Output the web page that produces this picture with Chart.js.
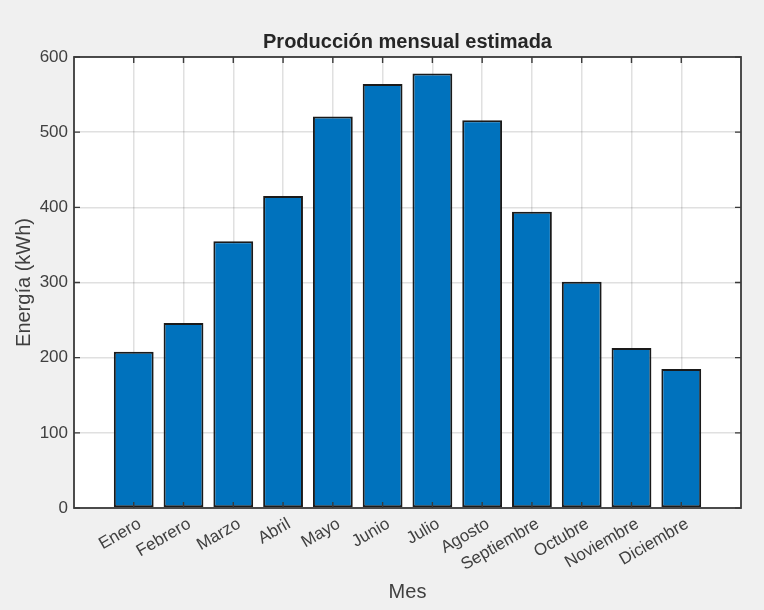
<!DOCTYPE html>
<html>
<head>
<meta charset="utf-8">
<script src="https://cdn.jsdelivr.net/npm/chart.js@4"></script>
<style>
  html, body { margin:0; padding:0; background:#f0f0f0; }
  #wrap { width:764px; height:610px; }
</style>
</head>
<body>
<div id="wrap"><canvas id="chart" width="764" height="610"></canvas></div>
<script>
/* ---------- DATA ---------- */
const months = ["Enero","Febrero","Marzo","Abril","Mayo","Junio","Julio","Agosto","Septiembre","Octubre","Noviembre","Diciembre"];
const energy = [208, 246, 355, 415, 521, 564, 578, 516, 394, 301, 213, 185];
const yTicks = [0, 100, 200, 300, 400, 500, 600];

const AXIS = '#3a3a3a';
const TEXT = '#404040';
const FONT = "'Liberation Sans', Arial, sans-serif";

/* ---------- plugin: background, box, inward ticks ---------- */
const matlabBox = {
  id: 'matlabBox',
  beforeDraw(chart){
    const {ctx, chartArea: a} = chart;
    ctx.save();
    ctx.fillStyle = '#f0f0f0';
    ctx.fillRect(0, 0, chart.width, chart.height);
    ctx.fillStyle = '#ffffff';
    ctx.fillRect(a.left, a.top, a.right - a.left, a.bottom - a.top);
    ctx.restore();
  },
  afterDatasetsDraw(chart){
    const {ctx, chartArea: a, scales} = chart;
    const L = 6;
    ctx.save();
    ctx.strokeStyle = AXIS;
    ctx.lineWidth = 1.4;
    ctx.beginPath();
    yTicks.forEach(v=>{
      const y = scales.y.getPixelForValue(v);
      ctx.moveTo(a.left, y); ctx.lineTo(a.left + L, y);
      ctx.moveTo(a.right, y); ctx.lineTo(a.right - L, y);
    });
    months.forEach((m,i)=>{
      const x = scales.x.getPixelForValue(i + 1);
      ctx.moveTo(x, a.bottom); ctx.lineTo(x, a.bottom - L);
      ctx.moveTo(x, a.top); ctx.lineTo(x, a.top + L);
    });
    ctx.stroke();
    ctx.lineWidth = 1.8;
    ctx.strokeRect(a.left, a.top, a.right - a.left, a.bottom - a.top);
    ctx.restore();
  }
};

const ctx = document.getElementById("chart").getContext("2d");
new Chart(ctx, {
  type: 'bar',
  data: {
    datasets: [{
      data: months.map((m,i)=>({x: i + 1, y: energy[i]})),
      backgroundColor: '#0072BD',
      borderColor: '#1a1a1a',
      borderWidth: 2,
      borderSkipped: false,
      categoryPercentage: 1,
      barPercentage: 0.8
    }]
  },
  options: {
    responsive: false,
    animation: false,
    layout: { padding: { left: 0, right: 23, top: 0, bottom: 0 } },
    plugins: {
      legend: { display: false },
      tooltip: { enabled: false },
      title: {
        display: true,
        fullSize: false,
        text: 'Producción mensual estimada',
        color: '#262626',
        font: { family: FONT, size: 20, weight: 'bold' },
        padding: { top: 30, bottom: 3 }
      }
    },
    scales: {
      x: {
        type: 'linear',
        offset: false,
        min: -0.2,
        max: 13.2,
        afterBuildTicks(scale){ scale.ticks = months.map((m,i)=>({value: i + 1})); },
        afterFit(scale){ scale.height = 102; },
        grid: { color: 'rgba(38,38,38,0.14)', lineWidth: 1.5, drawTicks: false, offset: false },
        border: { display: false },
        ticks: {
          autoSkip: false,
          minRotation: 30,
          maxRotation: 30,
          padding: 6,
          labelOffset: 6,
          color: TEXT,
          font: { family: FONT, size: 17 },
          callback: (v)=> months[v - 1]
        },
        title: {
          display: true,
          text: 'Mes',
          color: TEXT,
          font: { family: FONT, size: 20 },
          padding: { top: 0, bottom: 6 }
        }
      },
      y: {
        min: 0,
        max: 600,
        afterBuildTicks(scale){ scale.ticks = yTicks.map(v=>({value: v})); },
        afterFit(scale){ scale.width = 74; },
        grid: { color: 'rgba(38,38,38,0.14)', lineWidth: 1.5, drawTicks: false },
        border: { display: false },
        ticks: {
          padding: 6,
          color: TEXT,
          font: { family: FONT, size: 17 }
        },
        title: {
          display: true,
          text: 'Energía (kWh)',
          color: TEXT,
          font: { family: FONT, size: 20 },
          padding: { top: 12, bottom: 0 }
        }
      }
    }
  },
  plugins: [matlabBox]
});
</script>
</body>
</html>
